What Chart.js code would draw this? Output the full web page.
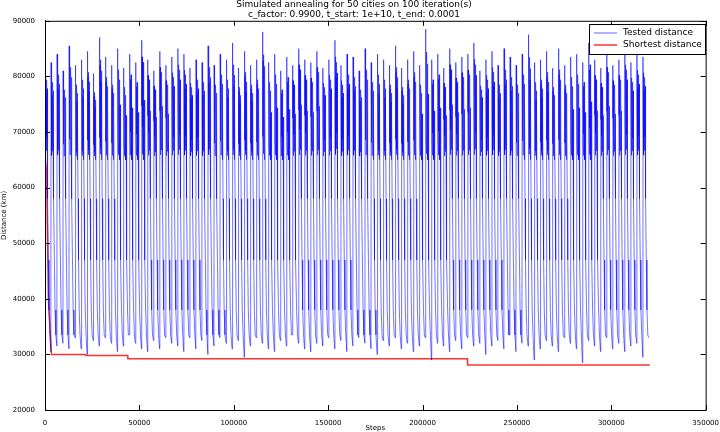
<!DOCTYPE html>
<html><head><meta charset="utf-8">
<script src="https://cdn.jsdelivr.net/npm/chart.js@4.4.0/dist/chart.umd.min.js"></script>
<style>html,body{margin:0;background:#fff}#w{width:720px;height:432px}</style>
</head><body><div id="w"><canvas id="c"></canvas></div>
<script>
const titleLines = ["Simulated annealing for 50 cities on 100 iteration(s)", "c_factor: 0.9900, t_start: 1e+10, t_end: 0.0001"];
const xTicks = [0,50000,100000,150000,200000,250000,300000,350000];
const yTicks = [20000,30000,40000,50000,60000,70000,80000,90000];
const cycleLength = 3200;
const cyclePeak = [83000,82500,84000,81000,85500,82000,83000,84500,80500,87000,83500,82000,85000,81500,84000,82500,86500,83000,81000,84500,82000,83500,85000,84000,81500,83000,82500,85500,82000,84000,83000,86000,81500,84500,82000,83000,88000,82500,84000,81000,83500,82000,85000,83000,82500,84500,81500,83000,86500,82000,84000,83500,81000,85000,82500,84000,83000,82000,85500,81500,83000,84500,82000,88500,83000,84000,81500,85000,82500,83500,84000,86000,81000,83000,84500,82000,85000,83500,82000,84000,87500,82500,83000,84500,81500,85000,82000,83500,84000,82500,86000,83000,81500,84500,82000,83000,85000,82500,84000,83500];
const cycleLow = [30500,31500,32000,31000,33000,31000,30000,32500,31500,33000,32000,30500,31500,33500,32000,31000,30500,32500,31000,33000,32000,31500,30500,33000,31000,32500,30000,31500,33000,32000,31000,32500,29500,31500,33000,32000,31000,30500,32500,31500,33500,32000,31000,30500,32000,31500,33000,31000,32500,30500,31500,33000,32000,31000,30000,32500,31500,33000,31000,32000,30500,31500,33000,29000,32000,31500,30500,32500,31000,33000,31500,32000,30000,31500,32500,31000,33500,30500,32000,31500,29000,31000,32500,31500,30500,33000,32000,31000,28500,32500,31500,30500,33000,31000,32000,30500,31500,32000,29500,33000];
const bandFloor = 65000;
const bestSteps = [0, 800, 1800, 3400, 21500, 21600, 43800, 43900, 223800, 223900, 320500];
const bestDist = [66000, 63000, 40000, 30000, 30000, 29800, 29800, 29200, 29200, 28100, 28100];
const shapeFrac = [0,0.03,0.06,0.09,0.12,0.15,0.18,0.21,0.24,0.27,0.3,0.33,0.36,0.39,0.42,0.47,0.55,0.66,0.8,0.97];
const shapeLevel = ["p",0.5,0.95,0.2,0.85,0.05,0.75,0.3,0.9,0.1,0.7,0.25,0.8,0.0,0.55,"d1","d2","d3","d4","l"];
const descent = {d1: 58000, d2: 47000, d3: 38000, d4: 33500};

const tested = [];
for (let i = 0; i < cyclePeak.length; i++) {
  const s0 = i * cycleLength, pk = cyclePeak[i], lo = cycleLow[i];
  for (let k = 0; k < shapeFrac.length; k++) {
    const lv = shapeLevel[k];
    let y;
    if (lv === "p") y = pk;
    else if (lv === "l") y = lo;
    else if (typeof lv === "string") y = Math.max(descent[lv], lo);
    else y = bandFloor + lv * (pk - 2000 - bandFloor);
    tested.push({x: s0 + shapeFrac[k] * cycleLength, y});
  }
}
const best = bestSteps.map((s, i) => ({x: s, y: bestDist[i]}));

const boxPlugin = {
  id: 'box',
  afterDraw(ch) {
    const a = ch.chartArea, c = ch.ctx;
    c.save(); c.strokeStyle = '#000'; c.lineWidth = 1;
    c.strokeRect(a.left + 0.5, a.top + 0.5, a.right - a.left, a.bottom - a.top);
    const xs = ch.scales.x, ys = ch.scales.y;
    c.beginPath();
    xTicks.forEach(t => { const px = Math.round(xs.getPixelForValue(t)) + 0.5; c.moveTo(px, a.bottom); c.lineTo(px, a.bottom - 5); c.moveTo(px, a.top); c.lineTo(px, a.top + 5); });
    yTicks.forEach(t => { const py = Math.round(ys.getPixelForValue(t)) + 0.5; c.moveTo(a.left, py); c.lineTo(a.left + 5, py); c.moveTo(a.right, py); c.lineTo(a.right - 5, py); });
    c.stroke();
    const lx = 589, ly = 24, lw = 116, lh = 30;
    c.fillStyle = '#fff'; c.fillRect(lx, ly, lw, lh);
    c.strokeRect(lx + 0.5, ly + 0.5, lw, lh);
    c.font = '9px "DejaVu Sans"'; c.textBaseline = 'middle'; c.fillStyle = '#000';
    c.strokeStyle = 'rgba(0,0,255,0.6)'; c.beginPath(); c.moveTo(lx + 5, ly + 9); c.lineTo(lx + 28, ly + 9); c.stroke();
    c.fillText('Tested distance', lx + 34, ly + 9);
    c.strokeStyle = 'rgba(255,0,0,0.8)'; c.lineWidth = 1.5; c.beginPath(); c.moveTo(lx + 5, ly + 21); c.lineTo(lx + 28, ly + 21); c.stroke();
    c.fillText('Shortest distance', lx + 34, ly + 21);
    c.restore();
  }
};

const plain = v => String(v);
new Chart(document.getElementById('c'), {
  type: 'line',
  data: { datasets: [
    {label: 'Tested distance', data: tested, borderColor: 'rgba(0,0,255,0.55)', borderWidth: 1, pointRadius: 0, tension: 0},
    {label: 'Shortest distance', data: best, borderColor: 'rgba(255,0,0,0.8)', borderWidth: 1.5, pointRadius: 0, tension: 0}
  ]},
  options: {
    responsive: true, maintainAspectRatio: false, animation: false,
    layout: {padding: {top: 0, right: 12, bottom: 0, left: 0}},
    plugins: {
      legend: {display: false}, tooltip: {enabled: false},
      title: {display: true, text: titleLines, color: '#000', font: {family: 'DejaVu Sans', size: 9, weight: 'normal', lineHeight: 1.1}, padding: {top: 0, bottom: 1}}
    },
    scales: {
      x: {type: 'linear', min: 0, max: 350000,
        afterBuildTicks: s => { s.ticks = xTicks.map(v => ({value: v})); },
        afterFit: s => { s.height = 22; },
        grid: {display: false}, border: {color: '#000'},
        ticks: {color: '#000', font: {family: 'DejaVu Sans', size: 7}, maxRotation: 0, padding: 1, callback: plain},
        title: {display: true, text: 'Steps', color: '#000', font: {family: 'DejaVu Sans', size: 7}, padding: {top: 0, bottom: 0}}},
      y: {type: 'linear', min: 20000, max: 90000,
        afterBuildTicks: s => { s.ticks = yTicks.map(v => ({value: v})); },
        afterFit: s => { s.width = 45; },
        grid: {display: false}, border: {color: '#000'},
        ticks: {color: '#000', font: {family: 'DejaVu Sans', size: 7}, padding: 2, callback: plain},
        title: {display: true, text: 'Distance (km)', color: '#000', font: {family: 'DejaVu Sans', size: 7}, padding: {top: 0, bottom: 1}}}
    }
  },
  plugins: [boxPlugin]
});
</script></body></html>
